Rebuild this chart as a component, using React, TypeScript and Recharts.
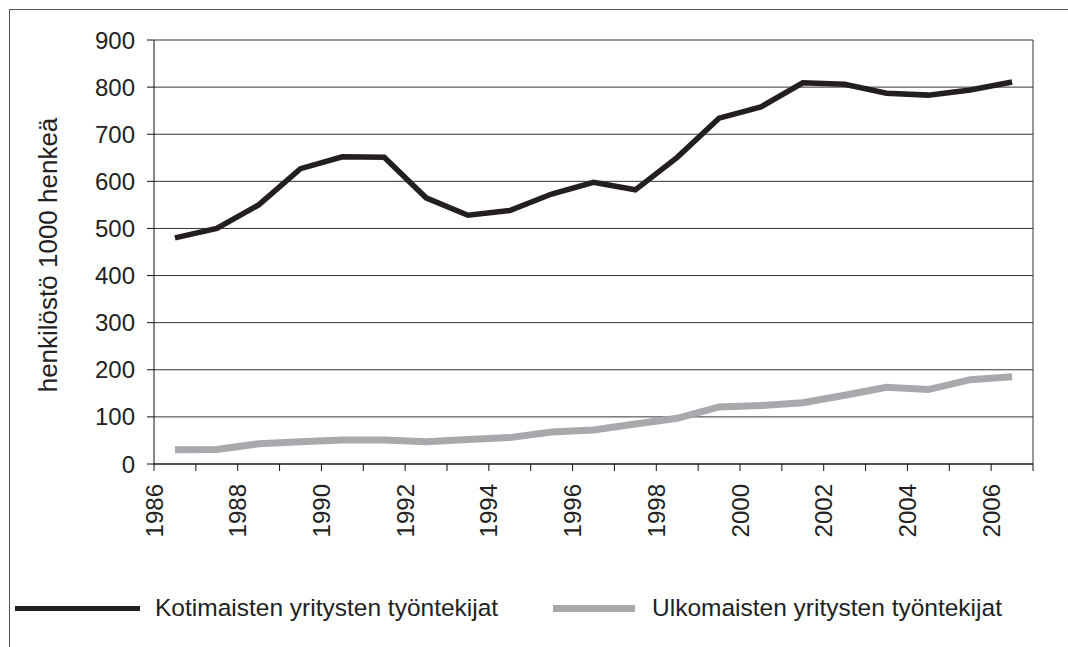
import { CartesianGrid, Line, LineChart, ReferenceLine, XAxis, YAxis } from 'recharts';

const years = [
  1986, 1987, 1988, 1989, 1990, 1991, 1992, 1993, 1994, 1995, 1996,
  1997, 1998, 1999, 2000, 2001, 2002, 2003, 2004, 2005, 2006,
];
// henkilöstö, 1000 henkeä
const kotimaiset = [480, 500, 550, 627, 652, 651, 565, 528, 538, 573, 598, 582, 651, 734, 758, 809, 806, 787, 783, 794, 811];
const ulkomaiset = [30, 31, 43, 47, 51, 51, 47, 52, 56, 68, 72, 85, 97, 121, 124, 130, 146, 163, 158, 179, 185];

const yTicks = [0, 100, 200, 300, 400, 500, 600, 700, 800, 900];
const xTicks = [...years, 2007];

const seriesNames = ['Kotimaisten yritysten työntekijat', 'Ulkomaisten yritysten työntekijat'];
const BLACK = '#231f20';
const GRAY = '#a7a9ac';
const FONT = '"Liberation Sans", Arial, sans-serif';

const data = years.map((year, i) => ({
  year,
  mid: year + 0.5, // piste luokan keskelle
  kot: kotimaiset[i],
  ulk: ulkomaiset[i],
}));

function YearTick({ x, y, payload }: any) {
  if (payload.value % 2 !== 0) return null;
  const ty = y + 13;
  return (
    <text
      x={x}
      y={ty}
      dy="0.36em"
      transform={`rotate(-90, ${x}, ${ty})`}
      textAnchor="end"
      fontSize={24}
      fill="#222"
      fontFamily={FONT}
    >
      {payload.value}
    </text>
  );
}

export default function App() {
  return (
    <div
      style={{
        position: 'absolute',
        left: 9,
        top: 9,
        width: 1058,
        height: 637,
        borderLeft: '1px solid #555',
        borderTop: '1px solid #555',
        background: '#fff',
        fontFamily: FONT,
      }}
    >
      <LineChart width={1058} height={637} data={data} margin={{ top: 30, right: 35, left: 0, bottom: 63 }}>
        <CartesianGrid vertical={false} stroke="#333" />
        <XAxis
          type="number"
          dataKey="mid"
          domain={[1986, 2007]}
          ticks={xTicks}
          interval={0}
          height={120}
          tickSize={7}
          tickMargin={0}
          tick={<YearTick />}
          axisLine={{ stroke: '#111' }}
          tickLine={{ stroke: '#111' }}
        />
        <YAxis
          domain={[0, 900]}
          ticks={yTicks}
          interval={0}
          width={144}
          tickSize={7}
          tickMargin={12}
          tick={{ fontSize: 24, fill: '#222', fontFamily: FONT }}
          axisLine={{ stroke: '#111' }}
          tickLine={{ stroke: '#111' }}
          label={{
            content: (props: any) => {
              const vb = props.viewBox || { x: 0, y: 30, width: 144, height: 424 };
              const cy = vb.y + vb.height / 2 + 3;
              return (
                <text
                  x={38}
                  y={cy}
                  dy="0.36em"
                  transform={`rotate(-90, 38, ${cy})`}
                  textAnchor="middle"
                  fontSize={26}
                  fill="#222"
                  fontFamily={FONT}
                >
                  henkilöstö 1000 henkeä
                </text>
              );
            },
          }}
        />
        <ReferenceLine x={2007} stroke="#333" />
        <Line
          type="linear"
          dataKey="ulk"
          name={seriesNames[1]}
          stroke={GRAY}
          strokeWidth={7}
          dot={false}
          isAnimationActive={false}
        />
        <Line
          type="linear"
          dataKey="kot"
          name={seriesNames[0]}
          stroke={BLACK}
          strokeWidth={5.5}
          dot={false}
          isAnimationActive={false}
        />
      </LineChart>
      <div
        style={{
          position: 'absolute',
          left: 0,
          top: 583,
          width: 1058,
          height: 30,
          fontSize: 24.5,
          color: '#222',
          whiteSpace: 'nowrap',
        }}
      >
        <span style={{ position: 'absolute', left: 5, top: 13, width: 125, height: 5, background: BLACK }} />
        <span style={{ position: 'absolute', left: 145, top: 0, lineHeight: '30px' }}>{seriesNames[0]}</span>
        <span style={{ position: 'absolute', left: 543, top: 12, width: 82, height: 7, background: GRAY }} />
        <span style={{ position: 'absolute', left: 642, top: 0, lineHeight: '30px' }}>{seriesNames[1]}</span>
      </div>
    </div>
  );
}
